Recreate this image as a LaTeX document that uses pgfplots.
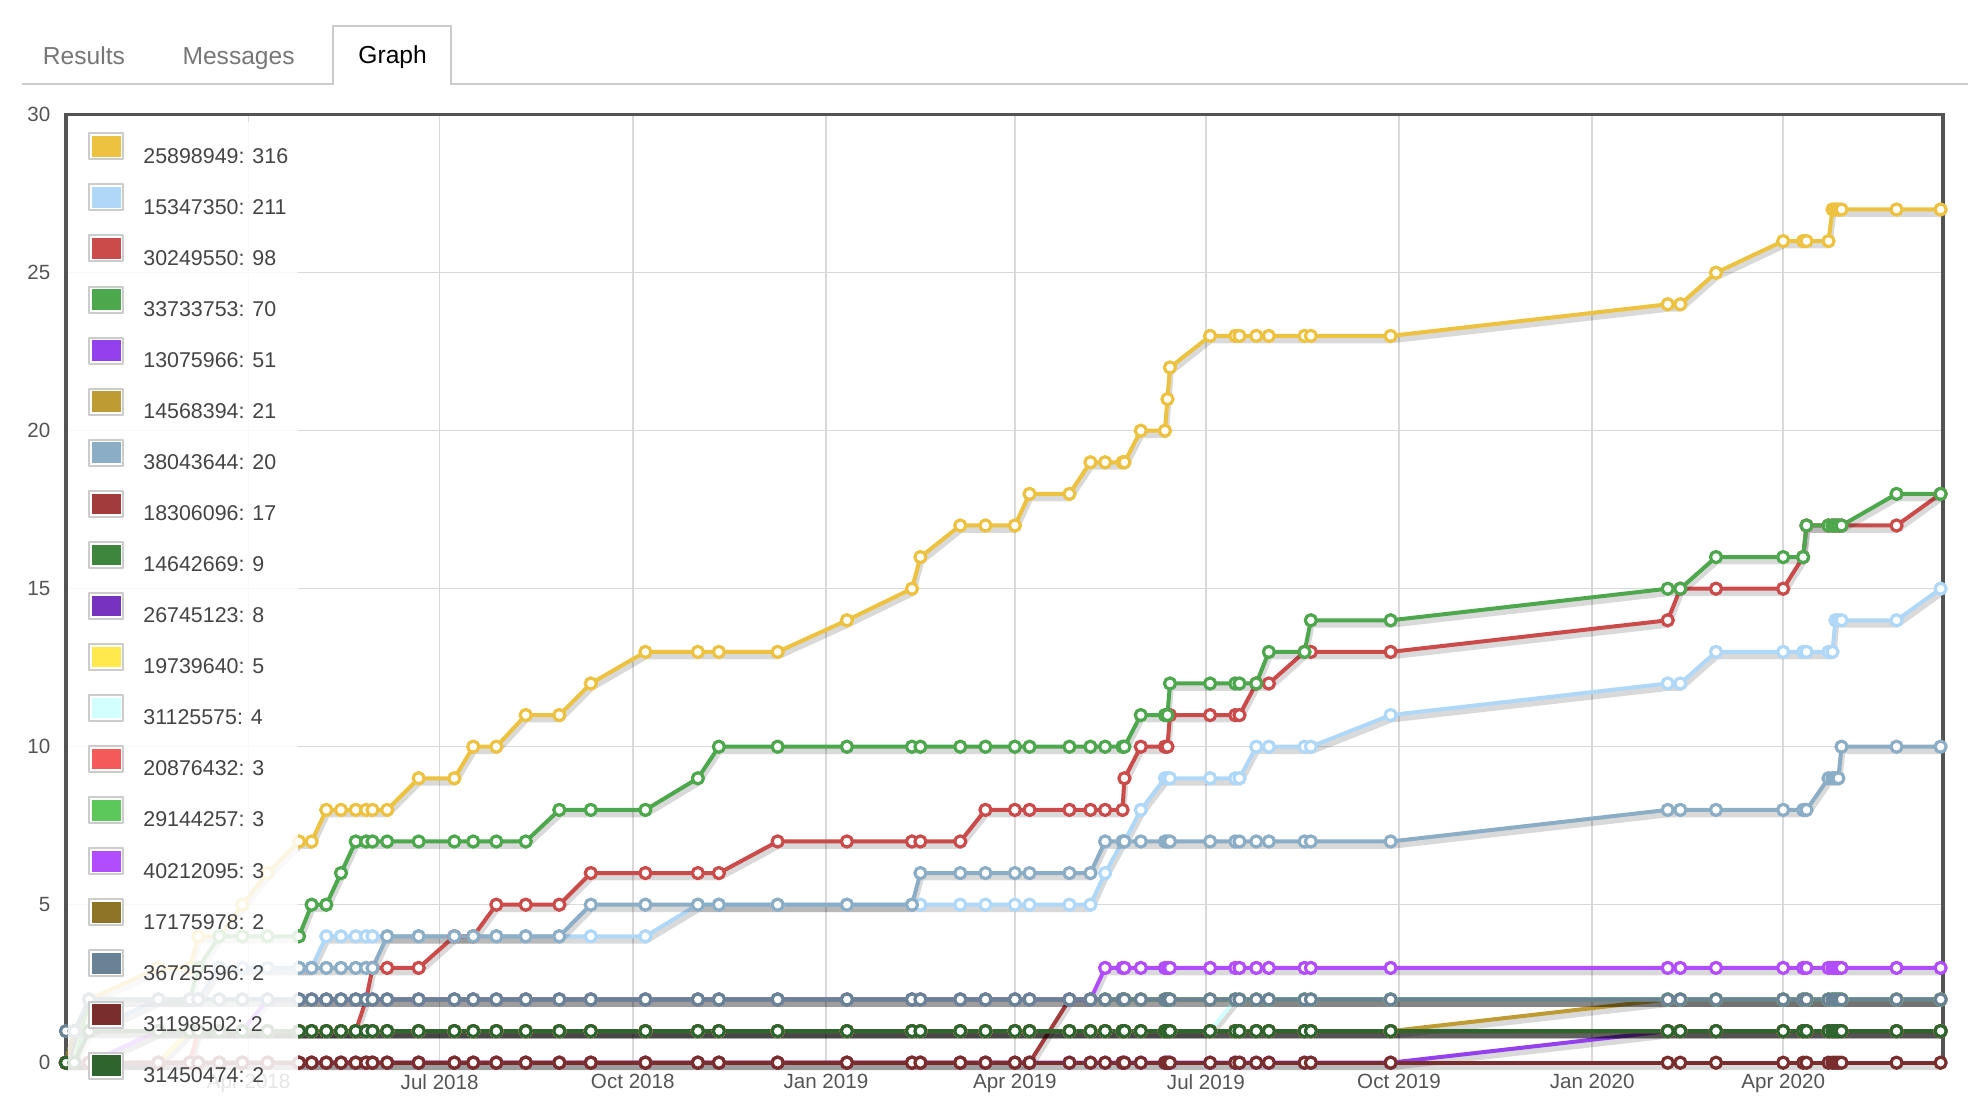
\documentclass[border=0pt]{standalone}
\usepackage{fontspec}
\setmainfont{Liberation Sans}
\usepackage{pgfplots}
\usepackage{pgfplotstable}
\pgfplotsset{compat=1.18}
\definecolor{c1}{HTML}{EDC240}
\definecolor{c2}{HTML}{AFD8F8}
\definecolor{c3}{HTML}{CB4B4B}
\definecolor{c4}{HTML}{4DA74D}
\definecolor{c5}{HTML}{9440ED}
\definecolor{c6}{HTML}{BE9B33}
\definecolor{c7}{HTML}{8CADC6}
\definecolor{c8}{HTML}{A23C3C}
\definecolor{c9}{HTML}{3E863E}
\definecolor{c10}{HTML}{7633BE}
\definecolor{c11}{HTML}{FFE94D}
\definecolor{c12}{HTML}{D2FFFF}
\definecolor{c13}{HTML}{F45A5A}
\definecolor{c14}{HTML}{5CC85C}
\definecolor{c15}{HTML}{B24DFF}
\definecolor{c16}{HTML}{8E7426}
\definecolor{c17}{HTML}{698295}
\definecolor{c18}{HTML}{7A2D2D}
\definecolor{c19}{HTML}{2E642E}
\definecolor{tickgray}{HTML}{545454}
\definecolor{legtext}{HTML}{444444}
\definecolor{tabgray}{HTML}{777777}
\definecolor{tabline}{HTML}{CCCCCC}

\pgfplotstableread{
x s1 s2 s3 s4 s5 s6 s7 s8 s9 s10 s11 s12 s13 s14 s15 s16 s17 s18 s19
-178 0 0 0 0 0 0 0 0 0 0 0 0 0 0 0 0 1 0 0
-174 1 1 0 1 0 0 1 0 1 0 0 0 0 0 0 1 1 0 0
-167 2 1 0 2 0 0 1 0 1 0 0 0 0 2 0 1 2 0 1
-134 3 2 0 2 0 0 2 0 1 1 0 1 0 2 1 1 2 0 1
-119 3 2 0 2 0 1 2 0 1 1 1 1 0 2 1 1 2 0 1
-115 4 2 1 3 0 1 2 0 1 1 1 1 1 2 1 1 2 0 1
-105 4 3 1 4 0 1 3 0 1 1 1 1 1 2 1 1 2 0 1
-94 5 3 1 4 0 1 3 0 1 1 1 1 1 2 1 1 2 0 1
-82 6 3 1 4 0 1 3 0 1 1 1 1 1 2 2 1 2 0 1
-67 7 3 1 4 0 1 3 0 1 1 1 1 1 2 2 1 2 0 1
-61 7 3 1 5 0 1 3 0 1 1 1 1 1 2 2 1 2 0 1
-54 8 4 1 5 0 1 3 0 1 1 1 1 1 2 2 1 2 0 1
-47 8 4 1 6 0 1 3 0 1 1 1 1 1 2 2 1 2 0 1
-40 8 4 1 7 0 1 3 0 1 1 1 1 1 2 2 1 2 0 1
-35 8 4 2 7 0 1 3 0 1 1 1 1 1 2 2 1 2 0 1
-32 8 4 3 7 0 1 3 0 1 1 1 1 1 2 2 1 2 0 1
-25 8 4 3 7 0 1 4 0 1 1 1 1 1 2 2 1 2 0 1
-10 9 4 3 7 0 1 4 0 1 1 1 1 1 2 2 1 2 0 1
7 9 4 4 7 0 1 4 0 1 1 1 1 1 2 2 1 2 0 1
16 10 4 4 7 0 1 4 0 1 1 1 1 1 2 2 1 2 0 1
27 10 4 5 7 0 1 4 0 1 1 1 1 1 2 2 1 2 0 1
41 11 4 5 7 0 1 4 0 1 1 1 1 1 2 2 1 2 0 1
57 11 4 5 8 0 1 4 0 1 1 1 1 1 2 2 1 2 0 1
72 12 4 6 8 0 1 5 0 1 1 1 1 1 2 2 1 2 0 1
98 13 4 6 8 0 1 5 0 1 1 1 1 1 2 2 1 2 0 1
123 13 5 6 9 0 1 5 0 1 1 1 1 1 2 2 1 2 0 1
133 13 5 6 10 0 1 5 0 1 1 1 1 1 2 2 1 2 0 1
161 13 5 7 10 0 1 5 0 1 1 1 1 1 2 2 1 2 0 1
194 14 5 7 10 0 1 5 0 1 1 1 1 1 2 2 1 2 0 1
225 15 5 7 10 0 1 5 0 1 1 1 1 1 2 2 1 2 0 1
229 16 5 7 10 0 1 6 0 1 1 1 1 1 2 2 1 2 0 1
248 17 5 7 10 0 1 6 0 1 1 1 1 1 2 2 1 2 0 1
260 17 5 8 10 0 1 6 0 1 1 1 1 1 2 2 1 2 0 1
274 17 5 8 10 0 1 6 0 1 1 1 1 1 2 2 1 2 0 1
281 18 5 8 10 0 1 6 0 1 1 1 1 1 2 2 1 2 0 1
300 18 5 8 10 0 1 6 2 1 1 1 1 1 2 2 1 2 0 1
310 19 5 8 10 0 1 6 2 1 1 1 1 1 2 2 1 2 0 1
317 19 6 8 10 0 1 7 2 1 1 1 1 1 2 3 1 2 0 1
325.3 19 7 8 10 0 1 7 2 1 1 1 1 1 2 3 1 2 0 1
326.2 19 7 9 10 0 1 7 2 1 1 1 1 1 2 3 1 2 0 1
334 20 8 10 11 0 1 7 2 1 1 1 1 1 2 3 1 2 0 1
345.5 20 9 10 11 0 1 7 2 1 1 1 1 1 2 3 1 2 0 1
346.7 21 9 10 11 0 1 7 2 1 1 1 1 1 2 3 1 2 0 1
347.9 22 9 11 12 0 1 7 2 1 1 1 1 1 2 3 1 2 0 1
367 23 9 11 12 0 1 7 2 1 1 1 1 1 2 3 1 2 0 1
379 23 9 11 12 0 1 7 2 1 1 1 2 1 2 3 1 2 0 1
381 23 9 11 12 0 1 7 2 1 1 1 2 1 2 3 1 2 0 1
389 23 10 12 12 0 1 7 2 1 1 1 2 1 2 3 1 2 0 1
395 23 10 12 13 0 1 7 2 1 1 1 2 1 2 3 1 2 0 1
412 23 10 13 13 0 1 7 2 1 1 1 2 1 2 3 1 2 0 1
415 23 10 13 14 0 1 7 2 1 1 1 2 1 2 3 1 2 0 1
453 23 11 13 14 0 1 7 2 1 1 1 2 1 2 3 1 2 0 1
585 24 12 14 15 1 2 8 2 1 1 1 2 1 2 3 1 2 0 1
591 24 12 15 15 1 2 8 2 1 1 1 2 1 2 3 1 2 0 1
608 25 13 15 16 1 2 8 2 1 1 1 2 1 2 3 1 2 0 1
640 26 13 15 16 1 2 8 2 1 1 1 2 1 2 3 1 2 0 1
649.5 26 13 16 16 1 2 8 2 1 1 1 2 1 2 3 1 2 0 1
651.1 26 13 17 17 1 2 8 2 1 1 1 2 1 2 3 1 2 0 1
661.6 26 13 17 17 1 2 9 2 1 1 1 2 1 2 3 1 2 0 1
663.5 27 13 17 17 1 2 9 2 1 1 1 2 1 2 3 1 2 0 1
664.9 27 14 17 17 1 2 9 2 1 1 1 2 1 2 3 1 2 0 1
666.3 27 14 17 17 1 2 9 2 1 1 1 2 1 2 3 1 2 0 1
667.8 27 14 17 17 1 2 10 2 1 1 1 2 1 2 3 1 2 0 1
694 27 14 17 18 1 2 10 2 1 1 1 2 1 2 3 1 2 0 1
715 27 15 18 18 1 2 10 2 1 1 1 2 1 2 3 1 2 0 1
}\data

\pgfplotsset{
  ser/.style={color=#1, line width=2pt, line join=round, mark=*, mark size=2.8pt,
    mark options={fill=white, draw=#1, line width=1.6pt, solid}},
  shd/.style={forget plot, draw=black, draw opacity=0.15, line width=3pt, line join=round,
    no markers, yshift=-2.2pt, xshift=0.4pt},
}
\newcommand{\ser}[3]{%
  \addplot[shd] table[x=x,y=#1]{\data};
  \addplot[ser=#2] table[x=x,y=#1]{\data};
  \addlegendentry{#3}}

\begin{document}
\begin{tikzpicture}
\path[use as bounding box] (0,0) rectangle (984pt,553pt);
% tabs
\draw[tabline, line width=1pt] (11pt,511pt) -- (166.5pt,511pt) -- (166.5pt,540pt) -- (225.5pt,540pt) -- (225.5pt,511pt) -- (984pt,511pt);
\node[anchor=base, text=tabgray, font=\fontsize{12.3}{14}\selectfont] at (42pt,520.8pt) {Results};
\node[anchor=base, text=tabgray, font=\fontsize{12.3}{14}\selectfont] at (119.3pt,520.8pt) {Messages};
\node[anchor=base, text=black, font=\fontsize{12.3}{14}\selectfont] at (196.3pt,521.2pt) {Graph};
\begin{axis}[
  at={(33pt,21.65pt)}, anchor=south west,
  scale only axis, width=938.35pt, height=474pt,
  xmin=-178, xmax=716, ymin=0, ymax=30,
  xtick={-91,0,92,184,274,365,457,549,640},
  xticklabels={Apr 2018,Jul 2018,Oct 2018,Jan 2019,Apr 2019,Jul 2019,Oct 2019,Jan 2020,Apr 2020},
  ytick={0,5,...,30},
  major tick length=0pt,
  grid=major, grid style={color=black!15, line width=0.8pt},
  axis line style={color=tickgray, line width=1.8pt},
  tick label style={color=tickgray, font=\fontsize{10.3}{12}\selectfont},
  /pgf/number format/assume math mode=true,
  yticklabel style={inner sep=0pt, xshift=-7.6pt},
  xticklabel style={inner sep=0pt, yshift=-5.5pt},
  clip=false,
  legend cell align=left,
  legend style={at={(0,1)}, anchor=north west, xshift=1pt, yshift=-3.6pt,
    draw=none, fill=white, fill opacity=0.85, text opacity=1,
    inner xsep=5pt, inner ysep=5pt, row sep=8.65pt, column sep=9.5pt,
    font=\fontsize{10.7}{12}\selectfont, text=legtext,
    nodes={inner sep=0pt}},
  legend image code/.code={
    \path[draw=none] (0pt,0pt) -- (23pt,0pt);
    \draw[draw=tabline, line width=1pt, fill=white, fill opacity=1, draw opacity=1] (5.5pt,-1.1pt) rectangle (22.5pt,11.9pt);
    \fill[#1, fill opacity=1, draw=none] (6.9pt,0.25pt) rectangle (21.1pt,10.55pt);
  },
]
\ser{s1}{c1}{25898949: 316}
\ser{s2}{c2}{15347350: 211}
\ser{s3}{c3}{30249550: 98}
\ser{s4}{c4}{33733753: 70}
\ser{s5}{c5}{13075966: 51}
\ser{s6}{c6}{14568394: 21}
\ser{s7}{c7}{38043644: 20}
\ser{s8}{c8}{18306096: 17}
\ser{s9}{c9}{14642669: 9}
\ser{s10}{c10}{26745123: 8}
\ser{s11}{c11}{19739640: 5}
\ser{s12}{c12}{31125575: 4}
\ser{s13}{c13}{20876432: 3}
\ser{s14}{c14}{29144257: 3}
\ser{s15}{c15}{40212095: 3}
\ser{s16}{c16}{17175978: 2}
\ser{s17}{c17}{36725596: 2}
\ser{s18}{c18}{31198502: 2}
\ser{s19}{c19}{31450474: 2}
\end{axis}
\end{tikzpicture}
\end{document}
